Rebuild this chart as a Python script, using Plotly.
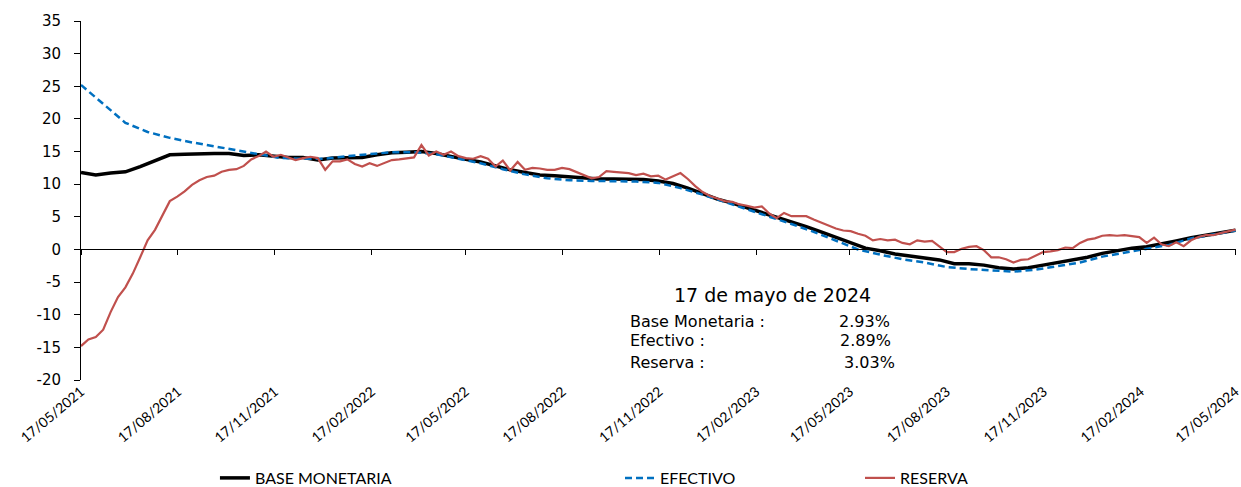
import pandas as pd
import plotly.graph_objects as go

# ---------------- data ----------------
start_date = "2021-05-17"
end_date = "2024-05-17"

tick_labels = ["17/05/2021", "17/08/2021", "17/11/2021", "17/02/2022", "17/05/2022",
               "17/08/2022", "17/11/2022", "17/02/2023", "17/05/2023", "17/08/2023",
               "17/11/2023", "17/02/2024", "17/05/2024"]

y_tick_values = [-20, -15, -10, -5, 0, 5, 10, 15, 20, 25, 30, 35]
y_tick_labels = ["-20", "-15", "-10", "-5", "0", "5", "10", "15", "20", "25", "30", "35"]

base_monetaria = [11.8, 11.4, 11.7, 11.9, 12.7, 13.6, 14.5, 14.6, 14.7, 14.7,
                  14.7, 14.4, 14.5, 14.3, 14.1, 14.1, 13.7, 14.0, 14.1, 14.1,
                  14.5, 14.8, 14.9, 15.0, 14.7, 14.2, 13.8, 13.4, 12.8, 12.2,
                  11.8, 11.4, 11.3, 11.1, 10.9, 10.8, 10.8, 10.8, 10.7, 10.5,
                  10.1, 9.4, 8.5, 7.7, 7.1, 6.4, 5.7, 4.9, 4.2, 3.5,
                  2.7, 1.9, 1.1, 0.2, -0.2, -0.7, -1.0, -1.3, -1.6, -2.2,
                  -2.2, -2.4, -2.8, -3.0, -2.8, -2.4, -2.0, -1.6, -1.2, -0.6,
                  -0.2, 0.2, 0.4, 0.8, 1.3, 1.8, 2.2, 2.5, 2.93]

efectivo = [25.2, 22.3, 19.4, 18.0, 17.1, 16.4, 15.8, 15.2, 14.6, 14.0,
            13.9, 13.9, 14.3, 14.6, 14.9, 14.9, 14.6, 13.9, 13.2, 12.3,
            11.5, 10.9, 10.6, 10.5, 10.5, 10.4, 10.2, 9.4, 8.4, 7.3,
            6.2, 5.1, 3.9, 2.7, 1.4, 0.0, -0.8, -1.5, -2.0, -2.7,
            -3.0, -3.2, -3.4, -3.1, -2.5, -2.0, -1.1, -0.5, 0.1, 0.7,
            1.7, 2.3, 2.89]

reserva = [-14.8, -13.8, -13.4, -12.3, -9.6, -7.3, -5.8, -3.7, -1.2, 1.4,
           3.0, 5.2, 7.4, 8.1, 8.9, 9.9, 10.6, 11.1, 11.3, 11.9,
           12.2, 12.3, 12.8, 13.8, 14.3, 15.0, 14.2, 14.5, 14.1, 13.7,
           14.0, 14.2, 14.0, 12.2, 13.5, 13.5, 13.8, 13.1, 12.7, 13.2,
           12.8, 13.3, 13.7, 13.8, 13.9, 14.1, 16.0, 14.4, 15.0, 14.5,
           15.0, 14.3, 14.0, 13.9, 14.3, 13.9, 12.7, 13.6, 12.1, 13.4,
           12.2, 12.5, 12.4, 12.2, 12.2, 12.5, 12.3, 11.8, 11.3, 10.9,
           11.1, 12.0, 11.9, 11.8, 11.7, 11.4, 11.6, 11.2, 11.3, 10.7,
           11.2, 11.7, 10.8, 9.7, 8.8, 8.2, 7.8, 7.4, 7.3, 6.9,
           6.7, 6.4, 6.6, 5.5, 4.8, 5.6, 5.1, 5.1, 5.1, 4.6,
           4.1, 3.6, 3.2, 2.9, 2.8, 2.4, 2.1, 1.4, 1.6, 1.4,
           1.5, 1.0, 0.8, 1.4, 1.2, 1.3, 0.5, -0.4, -0.4, 0.1,
           0.4, 0.5, -0.1, -1.2, -1.2, -1.5, -2.0, -1.6, -1.5, -0.9,
           -0.4, -0.3, -0.1, 0.3, 0.2, 1.0, 1.5, 1.7, 2.1, 2.2,
           2.1, 2.2, 2.0, 1.9, 1.0, 1.8, 0.8, 0.5, 1.1, 0.5,
           1.4, 1.9, 2.2, 2.2, 2.5, 2.8, 3.03]

# ---------------- build ----------------
dates_base = pd.date_range(start_date, end_date, periods=len(base_monetaria))
dates_efectivo = pd.date_range(start_date, end_date, periods=len(efectivo))
dates_reserva = pd.date_range(start_date, end_date, periods=len(reserva))
tick_vals = pd.to_datetime(tick_labels, format="%d/%m/%Y")

LEGEND_FONT = dict(family="Lato, Open Sans, sans-serif", size=16, color="#000000")
TEXT_FONT = "DejaVu Sans, Verdana, sans-serif"

fig = go.Figure()
fig.add_trace(go.Scatter(x=dates_base, y=base_monetaria, mode="lines",
                         name="BASE MONETARIA", legend="legend",
                         line=dict(color="#000000", width=3.5)))
fig.add_trace(go.Scatter(x=dates_efectivo, y=efectivo, mode="lines",
                         name="EFECTIVO", legend="legend2",
                         line=dict(color="#0070C0", width=2.5, dash="7px,4px")))
fig.add_trace(go.Scatter(x=dates_reserva, y=reserva, mode="lines",
                         name="RESERVA", legend="legend3",
                         line=dict(color="#C0504D", width=2.2)))

# small pad on the right so the last tick is kept
x_range = [pd.Timestamp(start_date), pd.Timestamp(end_date) + pd.Timedelta(hours=12)]
y_min, y_max = -20, 35
zero_pos = (0 - y_min) / (y_max - y_min)

legend_common = dict(orientation="h", yanchor="middle", xanchor="left",
                     xref="container", yref="container",
                     font=LEGEND_FONT, bgcolor="rgba(0,0,0,0)", borderwidth=0)

fig.update_layout(
    width=1241, height=487,
    margin=dict(l=81, r=5, t=21, b=107, autoexpand=False),
    paper_bgcolor="white", plot_bgcolor="white",
    showlegend=True,
    legend=dict(x=0.1732, y=0.0185, **legend_common),
    legend2=dict(x=0.4996, y=0.0185, **legend_common),
    legend3=dict(x=0.6930, y=0.0185, **legend_common),
    xaxis=dict(range=x_range, tickvals=tick_vals, ticktext=tick_labels,
               tickangle=-40, ticks="", showline=False, showgrid=False,
               zeroline=False, automargin=False, ticklabeloverflow="allow",
               tickfont=dict(family="Lato, Open Sans, sans-serif", size=14, color="#000000")),
    xaxis2=dict(range=x_range, overlaying="x", anchor="free", position=zero_pos,
                tickvals=tick_vals, showticklabels=False, ticks="outside",
                ticklen=5, tickcolor="#000000", tickwidth=1,
                showline=True, linecolor="#000000", linewidth=1,
                showgrid=False, zeroline=False, automargin=False),
    yaxis=dict(range=[y_min, y_max], tickvals=y_tick_values, ticktext=y_tick_labels,
               showline=True, linecolor="#000000", linewidth=1, ticks="outside",
               ticklen=6, tickcolor="#000000", showgrid=False, zeroline=False,
               ticklabelstandoff=10, automargin=False,
               tickfont=dict(family=TEXT_FONT, size=15, color="#000000")),
)

# a hidden trace so the zero-line axis is drawn
fig.add_trace(go.Scatter(x=x_range, y=[None, None], xaxis="x2", yaxis="y",
                         showlegend=False, hoverinfo="skip"))

rows = [("Base Monetaria :", base_monetaria[-1], 0.164, 0.702),
        ("Efectivo :", efectivo[-1], 0.109, 0.703),
        ("Reserva :", reserva[-1], 0.050, 0.7065)]

fig.add_annotation(text="17 de mayo de 2024", xref="paper", yref="paper",
                   x=0.599, y=0.237, xanchor="center", yanchor="middle",
                   showarrow=False, font=dict(family=TEXT_FONT, size=19, color="#000000"))
for label, val, ypos, xval in rows:
    fig.add_annotation(text=label, xref="paper", yref="paper", x=0.4736, y=ypos,
                       xanchor="left", yanchor="middle", showarrow=False,
                       font=dict(family=TEXT_FONT, size=16, color="#000000"))
    fig.add_annotation(text=f"{val:.2f}%", xref="paper", yref="paper", x=xval, y=ypos,
                       xanchor="right", yanchor="middle", showarrow=False,
                       font=dict(family=TEXT_FONT, size=16, color="#000000"))

fig.write_html("out.html",
               config={"displayModeBar": False},
               post_script="document.body.style.margin='0px';document.body.style.padding='0px';")
